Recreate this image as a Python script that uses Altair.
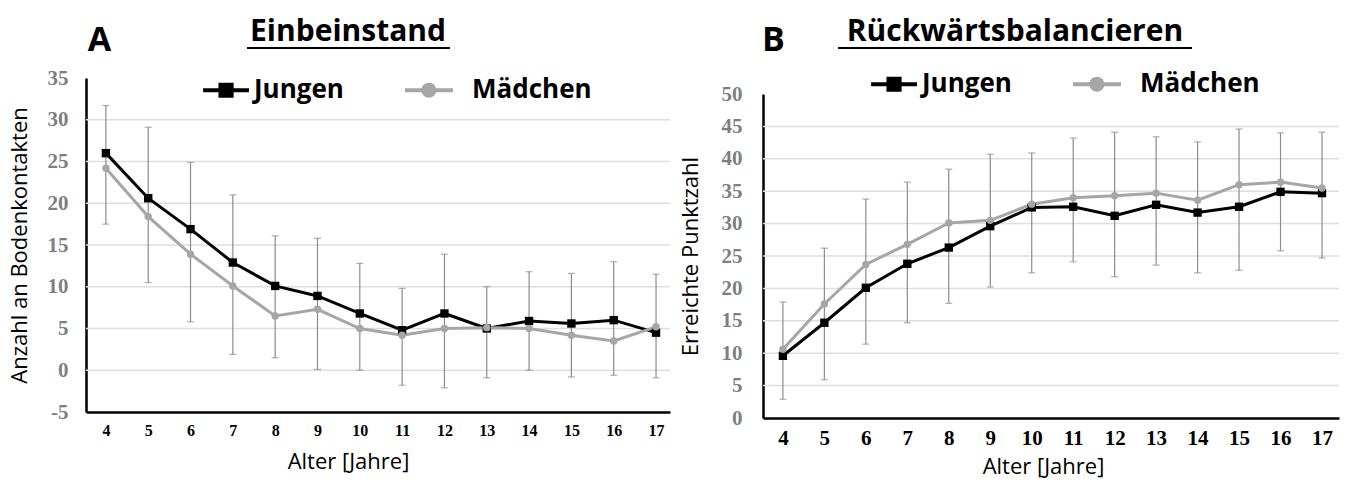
import altair as alt
import pandas as pd

# ---------------- data ----------------
ages = list(range(4, 18))
series_names = ["Jungen", "Mädchen"]
series_colors = ["#000000", "#a6a6a6"]

# Panel A – Einbeinstand (Anzahl an Bodenkontakten)
a_jungen = [26.0, 20.6, 16.9, 12.9, 10.1, 8.9, 6.8, 4.8, 6.8, 5.0, 5.9, 5.6, 6.0, 4.5]
a_maedchen = [24.2, 18.4, 13.9, 10.1, 6.5, 7.3, 5.0, 4.2, 5.0, 5.1, 5.0, 4.2, 3.5, 5.2]
a_err_lo = [17.5, 10.5, 5.8, 1.9, 1.5, 0.1, 0.0, -1.8, -2.1, -0.9, 0.0, -0.8, -0.6, -0.9]
a_err_hi = [31.7, 29.1, 24.9, 21.0, 16.1, 15.8, 12.8, 9.8, 13.9, 10.0, 11.8, 11.6, 13.0, 11.5]
a_yticks = [-5, 0, 5, 10, 15, 20, 25, 30, 35]
a_grid = [0, 5, 10, 15, 20, 25, 30]

# Panel B – Rückwärtsbalancieren (Erreichte Punktzahl)
b_jungen = [9.6, 14.7, 20.1, 23.8, 26.3, 29.6, 32.5, 32.6, 31.2, 32.9, 31.7, 32.6, 34.9, 34.7]
b_maedchen = [10.6, 17.6, 23.7, 26.8, 30.1, 30.5, 33.0, 34.0, 34.3, 34.7, 33.6, 36.0, 36.4, 35.5]
b_err_lo = [2.9, 5.9, 11.4, 14.7, 17.7, 20.2, 22.4, 24.1, 21.8, 23.6, 22.4, 22.8, 25.8, 24.7]
b_err_hi = [17.9, 26.2, 33.8, 36.4, 38.4, 40.7, 40.9, 43.2, 44.1, 43.4, 42.6, 44.6, 44.0, 44.1]
b_yticks = [0, 5, 10, 15, 20, 25, 30, 35, 40, 45, 50]
b_grid = [5, 10, 15, 20, 25, 30, 35, 40, 45]

# legend symbols: line with square / line with circle
legend_paths = [
    "M-0.48,0L1,0M0.08,-0.18L0.44,-0.18L0.44,0.18L0.08,0.18Z",
    "M-1,0L0.55,0M-0.41,0A0.18,0.18,0,1,0,-0.05,0A0.18,0.18,0,1,0,-0.41,0Z",
]

ERR_COLOR = "#8c8c8c"
GRID_COLOR = "#dedede"
HYPHEN_LABEL = "datum.value < 0 ? '-' + abs(datum.value) : '' + datum.value"


def one(**kw):
    return pd.DataFrame({k: [v] for k, v in kw.items()})


def panel(jungen, maedchen, lo, hi, ydom, yticks, grid, xdom, w, h, ytitle,
          title, letter, sp, anchors=()):
    long_df = pd.DataFrame({
        "Alter": ages * 2,
        "Wert": jungen + maedchen,
        "Gruppe": ["Jungen"] * len(ages) + ["Mädchen"] * len(ages),
    })
    err_df = pd.DataFrame({"Alter": ages, "lo": lo, "hi": hi})
    grid_df = pd.DataFrame({"g": grid})

    xscale = alt.Scale(domain=xdom, nice=False, zero=False)
    yscale = alt.Scale(domain=ydom, nice=False, zero=False)
    xaxis = alt.Axis(values=ages, title="Alter [Jahre]", grid=False, ticks=False, tickSize=0,
                     domainColor="black", domainWidth=2.5,
                     labelFont="Liberation Serif", labelFontWeight="bold",
                     labelFontSize=sp["xlab"], labelColor="black", labelPadding=sp["xpad"],
                     labelFlush=False, labelOverlap=False,
                     titleFont="Open Sans", titleFontSize=22, titleFontWeight="normal",
                     titleColor="black", titleX=sp["tx"], titleY=sp["ty"],
                     titleAlign="center", titleBaseline="alphabetic")
    yaxis = alt.Axis(values=yticks, title=ytitle, grid=False, ticks=False, tickSize=0,
                     domainColor="black", domainWidth=2.5,
                     labelFont="Liberation Serif", labelFontWeight="bold",
                     labelFontSize=21, labelColor="#7f7f7f", labelPadding=sp["ypad"],
                     labelFlush=False, labelOverlap=False, labelExpr=HYPHEN_LABEL,
                     titleFont="Open Sans", titleFontSize=22, titleFontWeight="normal",
                     titleColor="black", titleAngle=270, titleX=sp["ytx"], titleY=h / 2,
                     titleAlign="center", titleBaseline="middle")

    # no explicit domain here (alphabetical order = Jungen, Mädchen), so this
    # hidden colour legend is not merged with the visible legend below
    cscale = alt.Scale(range=series_colors)

    gridl = alt.Chart(grid_df).mark_rule(color=GRID_COLOR, strokeWidth=1.5).encode(
        y=alt.Y("g:Q", scale=yscale, axis=yaxis))

    base_err = alt.Chart(err_df)
    err_rule = base_err.mark_rule(color=ERR_COLOR, strokeWidth=1.2).encode(
        x=alt.X("Alter:Q", scale=xscale, axis=xaxis),
        y=alt.Y("lo:Q", scale=yscale, axis=yaxis), y2="hi:Q")
    cap_lo = base_err.mark_tick(orient="horizontal", size=7, thickness=1.2, color=ERR_COLOR).encode(
        x=alt.X("Alter:Q", scale=xscale, axis=xaxis),
        y=alt.Y("lo:Q", scale=yscale, axis=yaxis))
    cap_hi = base_err.mark_tick(orient="horizontal", size=7, thickness=1.2, color=ERR_COLOR).encode(
        x=alt.X("Alter:Q", scale=xscale, axis=xaxis),
        y=alt.Y("hi:Q", scale=yscale, axis=yaxis))

    base = alt.Chart(long_df).encode(
        x=alt.X("Alter:Q", scale=xscale, axis=xaxis),
        y=alt.Y("Wert:Q", scale=yscale, axis=yaxis),
        color=alt.Color("Gruppe:N", scale=cscale, legend=None),
    )
    lines = base.mark_line(strokeWidth=3)
    pts_j = base.transform_filter(alt.datum.Gruppe == "Jungen").mark_square(size=70, opacity=1)
    pts_m = base.transform_filter(alt.datum.Gruppe == "Mädchen").mark_circle(size=55, opacity=1)

    leg = alt.Legend(orient="none", legendX=sp["lx"], legendY=sp["ly"], direction="horizontal",
                     title=None, labelFont="Open Sans", labelFontSize=26, labelFontWeight="bold",
                     labelColor="black", symbolSize=3844, symbolStrokeWidth=4, symbolOpacity=1,
                     labelOffset=3, columnPadding=sp["cp"], padding=0, rowPadding=0,
                     labelLimit=300)
    # legend carrier: draws nothing itself (filtered to no rows), but its explicit
    # scales make the legend with line+marker symbols
    legend_layer = alt.Chart(long_df).transform_filter("datum.Alter > 100").mark_point(
        filled=True, opacity=1).encode(
        x=alt.X("Alter:Q", scale=xscale, axis=xaxis),
        y=alt.Y("Wert:Q", scale=yscale, axis=yaxis),
        fill=alt.Fill("Gruppe:N", scale=alt.Scale(domain=series_names, range=series_colors), legend=leg),
        stroke=alt.Stroke("Gruppe:N", scale=alt.Scale(domain=series_names, range=series_colors), legend=leg),
        shape=alt.Shape("Gruppe:N", scale=alt.Scale(domain=series_names, range=legend_paths), legend=leg),
    )

    title_t = alt.Chart(one(t=title)).mark_text(
        font="Open Sans", fontSize=30, fontWeight="bold", align="center", baseline="alphabetic",
        color="black").encode(text="t:N", x=alt.value(sp["tcx"]), y=alt.value(sp["tby"]))
    underline = alt.Chart(one(t=title)).mark_rule(color="black", strokeWidth=2).encode(
        x=alt.value(sp["ux1"]), x2=alt.value(sp["ux2"]), y=alt.value(sp["uy"]))
    letter_t = alt.Chart(one(t=letter)).mark_text(
        font="Open Sans", fontSize=34, fontWeight="bold", align="center", baseline="alphabetic",
        color="black").encode(text="t:N", x=alt.value(sp["lcx"]), y=alt.value(sp["lby"]))

    layers = [gridl, err_rule, cap_lo, cap_hi, lines, pts_j, pts_m, legend_layer,
              title_t, underline, letter_t]
    for ax, ay in anchors:
        layers.append(alt.Chart(one(t=0)).mark_point(size=1, opacity=0).encode(
            x=alt.value(ax), y=alt.value(ay)))
    return alt.layer(*layers).properties(width=w, height=h)


left = panel(a_jungen, a_maedchen, a_err_lo, a_err_hi, [-5, 35], a_yticks, a_grid,
             [3.53, 17.33], 584, 334, "Anzahl an Bodenkontakten", "Einbeinstand", "A",
             dict(xlab=16, xpad=10, tx=262, ty=56, ypad=18, ytx=-67,
                  lx=99, ly=-21, cp=53,
                  tcx=262, tby=-37, ux1=161, ux2=364, uy=-30, lcx=13.5, lby=-27),
             anchors=[(-85, -77)])

right = panel(b_jungen, b_maedchen, b_err_lo, b_err_hi, [0, 50], b_yticks, b_grid,
              [3.52, 17.41], 576, 324, "Erreichte Punktzahl", "Rückwärtsbalancieren", "B",
              dict(xlab=21, xpad=9, tx=280, ty=55, ypad=21, ytx=-73,
                   lx=90, ly=-43, cp=53,
                   tcx=252, tby=-53, ux1=75, ux2=429, uy=-46, lcx=10.5, lby=-43),
              anchors=[(580, 386)])

spacer = alt.Chart(one(t=0)).mark_point(opacity=0, size=1).encode(
    x=alt.value(0), y=alt.value(0)).properties(width=576, height=1)

indep = dict(color="independent", fill="independent", stroke="independent", shape="independent")

right_col = alt.vconcat(spacer, right, spacing=15, bounds="flush").resolve_scale(**indep)

chart = alt.hconcat(left, right_col, spacing=93, bounds="flush").resolve_scale(**indep).properties(
    padding=0, background="white"
).configure_view(strokeWidth=0)

chart.save("out.html", embed_options={"renderer": "svg", "actions": False})
